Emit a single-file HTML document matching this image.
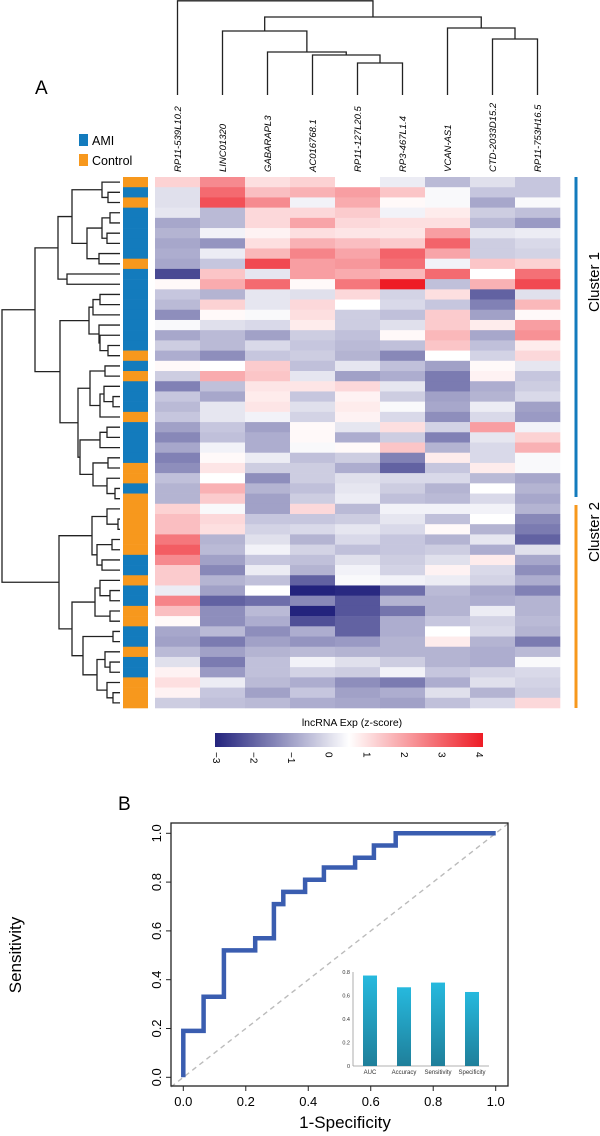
<!DOCTYPE html>
<html><head><meta charset="utf-8"><style>
html,body{margin:0;padding:0;background:#fff;}
svg{display:block;font-family:"Liberation Sans",sans-serif;}
</style></head><body>
<svg id="fig" width="600" height="1136" viewBox="0 0 600 1136" xmlns="http://www.w3.org/2000/svg">
<defs>
<linearGradient id="cbar" x1="0" x2="1" y1="0" y2="0"></linearGradient>
<linearGradient id="barg" x1="0" x2="0" y1="0" y2="1"><stop offset="0" stop-color="#26b9de"/><stop offset="1" stop-color="#1f7f9a"/></linearGradient>
</defs>
<text x="35" y="94" font-size="19">A</text>
<text x="118" y="810" font-size="19">B</text>
<g>
<rect x="79" y="134" width="9" height="12" fill="#137bbd"/>
<text x="92" y="145" font-size="12.5">AMI</text>
<rect x="79" y="154" width="9" height="12" fill="#f7981d"/>
<text x="92" y="165" font-size="12.5">Control</text>
</g>
<g id="heat"></g>
<g id="side"></g>
<g id="rowdend" stroke="#222" stroke-width="1.3" fill="none"></g>
<g id="coldend" stroke="#222" stroke-width="1.3" fill="none"></g>
<g id="collabels"></g>
<g>
<line x1="576" y1="177" x2="576" y2="497" stroke="#137bbd" stroke-width="3"/>
<line x1="576" y1="505" x2="576" y2="708" stroke="#f7981d" stroke-width="3"/>
<text transform="translate(599,282) rotate(-90)" text-anchor="middle" font-size="15">Cluster 1</text>
<text transform="translate(599,532) rotate(-90)" text-anchor="middle" font-size="15">Cluster 2</text>
</g>
<g id="colorbar">
<text x="352" y="726" text-anchor="middle" font-size="10.5">lncRNA Exp (z-score)</text>
<rect x="215" y="733" width="268" height="14" fill="url(#cbar)"/>
</g>
<g id="roc"></g>
</svg>
<script>
const NS="http://www.w3.org/2000/svg";
const genes=["RP11-539L10.2","LINC01320","GABARAPL3","AC016768.1","RP11-127L20.5","RP3-467L1.4","VCAN-AS1","CTD-2033D15.2","RP11-753H16.5"];
const col0=[1.2,0,0,0.1,-0.9,-0.7,-0.9,-0.8,-0.9,-2.4,0.6,-0.4,-0.6,-1.3,0.4,-0.9,-0.3,-0.8,0.6,-0.3,-1.5,-0.4,-0.6,-0.4,-1.0,-1.4,-0.9,-1.5,-1.3,-0.5,-0.7,-0.7,1.2,1.5,1.5,2.6,3.0,2.3,1.3,1.3,0.2,2.4,1.5,0.6,-0.9,-1.0,-0.6,0.0,0.7,1.0,0.7,-0.3];
const col1=[2.3,2.8,3.2,-0.6,-0.6,0.3,-1.2,0.2,-0.4,1.4,1.8,-0.7,1.2,0.6,0.0,-0.6,-0.6,-1.3,0.5,1.8,-0.5,-0.9,0.1,0.1,-0.4,-0.5,0.3,0.6,0.9,0.5,1.7,1.3,0.4,1.1,1.0,-0.7,-0.6,-1.0,-1.4,-0.7,-1.0,-2.0,-1.3,-1.3,-0.6,-1.6,-1.0,-1.6,-1.1,0.2,-0.4,-0.5];
const col2=[1.0,1.5,2.3,1.1,1.1,0.7,1.0,1.6,3.3,0.1,2.8,0.1,0.1,0.4,-0.1,-1.0,-0.1,-0.4,1.3,1.4,0.9,0.8,0.9,0.3,-1.0,-0.8,-0.8,0.2,-0.3,-1.3,-0.7,-1.0,-1.0,-0.4,-0.2,0.0,0.3,-0.4,0.2,-0.5,0.5,-1.8,-0.6,-0.8,-1.3,-1.0,-0.7,-0.5,-0.5,-0.6,-1.0,-0.6];
const col3=[1.2,1.7,0.3,1.1,1.9,1.0,1.7,2.4,2.0,2.0,0.6,0,1.1,1.0,0.8,-0.3,-0.4,-0.3,-0.5,0.1,0.9,-0.4,0.0,-0.2,0.6,0.6,0.4,-0.5,-0.3,-0.3,-0.5,-0.3,1.1,-0.4,-0.1,-0.7,-0.2,-0.5,-0.7,-2.0,-3.0,-1.4,-3.0,-2.3,-0.8,-1.2,-0.6,0.3,-0.2,-0.8,-0.4,-0.8];
const col4=[0.5,2.0,1.8,1.3,1.1,0.9,1.5,1.9,2.1,1.8,2.6,1.1,0.5,-0.3,-0.3,-0.5,-0.6,-0.7,0.1,-1.0,1.1,0.7,0.8,0.7,0.1,-0.8,0.6,-0.3,-0.8,0.0,0.1,0.2,-0.6,-0.3,0.1,-0.1,-0.5,0.0,0.3,0.4,-2.9,-2.2,-2.2,-2.0,-2.0,-1.1,-0.7,0.0,-0.3,-1.3,-1.0,-0.9];
const col5=[0.2,1.4,0.6,0.3,1.0,0.9,1.3,2.9,2.7,1.6,4.0,-0.2,-0.1,-0.5,0.0,0.6,-0.5,-1.4,-0.5,-0.8,0.1,-0.3,0.4,-0.1,1.0,-0.3,1.4,-1.5,-2.0,-0.1,-0.3,-0.5,0.3,0.1,-0.1,-0.4,-0.4,-0.3,-0.2,0.3,-1.8,-0.7,-1.7,-0.8,-0.8,-0.7,-0.7,-0.3,0.3,-1.6,-0.8,-1.0];
const col6=[-0.6,0.4,0.4,0.8,1.0,2.0,2.9,1.9,0.3,2.8,-0.5,1.0,-0.4,1.3,1.3,1.6,1.4,0.5,-1.0,-1.6,-1.6,-1.0,-0.9,-1.3,-0.2,-1.5,-0.7,0.8,-0.4,-0.1,-0.7,-0.6,0.3,-0.5,0.6,-0.7,-0.3,0.0,0.7,0.2,-0.6,-0.7,-0.7,-0.4,0.5,0.8,-0.7,-0.7,-0.4,-0.8,0.0,-0.5];
const col7=[0,-0.4,-0.9,-0.3,-0.6,0.1,-0.3,-0.3,1.4,0.5,1.7,-2.0,-1.5,-1.0,0.8,-0.9,-0.5,-0.2,0.6,0.7,-0.8,-0.7,0.2,-0.1,2.0,0.1,-0.1,-0.1,0.8,-0.6,0.5,-0.1,0.3,0.5,-0.7,0.1,-0.8,0.8,-0.1,-0.2,-0.9,-0.8,0.2,-0.2,-0.1,-0.7,-0.8,-0.8,-0.2,0.0,-0.7,-0.1];
const col8=[-0.4,-0.4,0.4,-0.5,-1.1,0.2,-0.1,-0.2,1.2,2.7,3.3,0,1.6,0.6,2.0,2.2,0.8,1.1,0.1,-0.4,-0.3,-0.1,-1.0,-1.1,0.3,1.2,1.7,0.4,0.4,-0.9,-0.7,-0.9,-0.7,-1.4,-1.6,-2.0,0.0,-0.9,-1.3,-0.8,-1.5,-0.7,-0.7,-0.6,-0.7,-1.6,-0.6,0.4,-0.1,-0.2,-0.3,1.1];
const groups="OBOBBBBBOBBBBBBBBOBOBBBOBBBBOOBOOOOOOBBOBBOOBBOBBOOO";
const cbTicks=[-3,-2,-1,0,1,2,3,4];
const rocFpr=[0,0,0.065,0.065,0.13,0.13,0.23,0.23,0.29,0.29,0.32,0.32,0.39,0.39,0.45,0.45,0.55,0.55,0.61,0.61,0.68,0.68,1];
const rocTpr=[0,0.19,0.19,0.33,0.33,0.52,0.52,0.57,0.57,0.71,0.71,0.76,0.76,0.81,0.81,0.86,0.86,0.90,0.90,0.95,0.95,1,1];
const rocTicks=[0,0.2,0.4,0.6,0.8,1.0];
const insetCats=["AUC","Accuracy","Sensitivity","Specificity"];
const insetVals=[0.77,0.67,0.71,0.63];
const insetTicks=[0,0.2,0.4,0.6,0.8];

function mk(tag,attrs,parent){const e=document.createElementNS(NS,tag);for(const k in attrs)e.setAttribute(k,attrs[k]);if(parent)parent.appendChild(e);return e;}
const NAVY=[35,35,125],WHITE=[255,255,255],RED=[238,28,37];
function color(v){let a,b,t;if(v<=0.5){t=Math.max(0,(v+3)/3.5);a=NAVY;b=WHITE;}else{t=Math.min(1,(v-0.5)/3.5);a=WHITE;b=RED;}
return "rgb("+a.map((c,i)=>Math.round(c+(b[i]-c)*t)).join(",")+")";}

// heatmap
const cols=[col0,col1,col2,col3,col4,col5,col6,col7,col8];
const HX=155,HY=177,CW=45,RH=(708-177)/52;
const heat=document.getElementById('heat');
cols.forEach((arr,c)=>{arr.forEach((v,r)=>{
 const el=mk('rect',{x:HX+c*CW,y:(HY+r*RH).toFixed(2),width:CW+0.3,height:(RH+0.3).toFixed(2),fill:color(v)},heat);
 
 
});});
const side=document.getElementById('side');
for(let r=0;r<groups.length;r++){
 const el=mk('rect',{x:123,y:(HY+r*RH).toFixed(2),width:25,height:(RH+0.3).toFixed(2),fill:groups[r]==='O'?'#f7981d':'#137bbd'},side);
 
 
}
// row dendrogram
function N(h,a,b){return {h:h,a:a,b:b};}
const b_=N(102,0,N(108,1,2));
const f_=N(87,N(102,N(110,3,4),N(107,5,6)),N(99,7,8));
const j_=N(58,N(72,b_,f_),N(67,9,10));
const n5=N(89,N(93,N(100,11,12),13),N(99,14,N(100,15,N(108,16,17))));
const q_=N(90,N(105,18,19),N(100,N(104,20,N(113,21,22)),23));
const s_=N(80,N(100,N(107,24,25),26),N(93,N(108,27,28),N(107,29,N(115,30,31))));
const TOP=N(35,j_,N(60,n5,N(78,q_,s_)));
const u_=N(92,N(107,32,N(118,33,34)),N(97,N(112,35,36),N(102,37,38)));
const v_=N(72,N(95,N(100,39,N(110,40,41)),N(110,42,43)),N(83,N(113,44,45),N(97,N(105,46,N(110,47,48)),N(107,49,N(113,50,51)))));
const ROOT=N(2,TOP,N(59,u_,v_));
const rd=document.getElementById('rowdend');
function drawRow(n){
 if(typeof n==='number')return {x:120,y:HY+(n+0.5)*RH};
 const A=drawRow(n.a),B=drawRow(n.b);
 const p=mk('path',{d:`M${A.x},${A.y}H${n.h}V${B.y}H${B.x}`},rd);
 
 
 return {x:n.h,y:(A.y+B.y)/2};
}
drawRow(ROOT);
// column dendrogram (y is height)
const G=i=>i;
const colTree=N(0.8,0,N(17,N(31,1,N(52,2,N(55,3,N(63,4,5)))),N(28,6,N(39,7,8))));
const cd=document.getElementById('coldend');
function drawCol(n){
 if(typeof n==='number')return {x:HX+(n+0.5)*CW,y:95};
 const A=drawCol(n.a),B=drawCol(n.b);
 const p=mk('path',{d:`M${A.x},${A.y}V${n.h}H${B.x}V${B.y}`},cd);
 
 
 return {x:(A.x+B.x)/2,y:n.h};
}
drawCol(colTree);
const cl=document.getElementById('collabels');
genes.forEach((g,i)=>{
 const x=HX+(i+0.5)*CW+3.5;
 const t=mk('text',{transform:`translate(${x},172) rotate(-90)`,'font-size':'9.5','font-style':'italic'},cl);
 t.textContent=g;
 
 
});
// colorbar
const grad=document.getElementById('cbar');
for(let k=0;k<=28;k++){const v=-3+7*k/28;mk('stop',{offset:k/28,'stop-color':color(v)},grad);}
const cb=document.getElementById('colorbar');
const cbx=v=>217+(v+3)/7*(480-217);
cbTicks.forEach(v=>{
 const t=mk('text',{transform:`translate(${cbx(v)-4},752) rotate(90)`,'font-size':'10'},cb);
 t.textContent=v<0?'\u2212'+(-v):String(v);
 
 
});
// ROC
const roc=document.getElementById('roc');
const X0=183.3,X1=495.7,Y0=1077.3,Y1=833.3;
const sx=v=>X0+v*(X1-X0), sy=v=>Y0-v*(Y0-Y1);
let el=mk('line',{x1:171,y1:sy((171-X0)/(X1-X0)),x2:508,y2:sy((508-X0)/(X1-X0)),stroke:'#bbb','stroke-width':1.4,'stroke-dasharray':'5,4'},roc);


el=mk('polyline',{points:rocFpr.map((f,i)=>sx(f).toFixed(1)+','+sy(rocTpr[i]).toFixed(1)).join(' '),fill:'none',stroke:'#3a5db0','stroke-width':4.5,'stroke-linejoin':'miter'},roc);


el=mk('rect',{x:171,y:823,width:337,height:263,fill:'none',stroke:'#222','stroke-width':1.3},roc);


rocTicks.forEach(v=>{
 let t=mk('line',{x1:sx(v),y1:1086,x2:sx(v),y2:1091,stroke:'#222','stroke-width':1},roc);
 
 
 t=mk('text',{x:sx(v),y:1106,'text-anchor':'middle','font-size':'13'},roc);
 t.textContent=v.toFixed(1);
 
 
 t=mk('line',{x1:166,y1:sy(v),x2:171,y2:sy(v),stroke:'#222','stroke-width':1},roc);
 
 
 t=mk('text',{transform:`translate(161,${sy(v)}) rotate(-90)`,'text-anchor':'middle','font-size':'13'},roc);
 t.textContent=v.toFixed(1);
 
 
});
el=mk('text',{x:345,y:1128,'text-anchor':'middle','font-size':'17'},roc);
el.textContent='1-Specificity';


el=mk('text',{transform:'translate(21,955) rotate(-90)','text-anchor':'middle','font-size':'17'},roc);
el.textContent='Sensitivity';


// inset bar chart
const IB=1066,IT=972,IL=353,IR=489;
const iy=v=>IB-v/0.8*(IB-IT);
el=mk('line',{x1:IL,y1:IT,x2:IL,y2:IB,stroke:'#999','stroke-width':0.8},roc);


el=mk('line',{x1:IL,y1:IB,x2:IR,y2:IB,stroke:'#999','stroke-width':0.8},roc);


insetTicks.forEach(v=>{
 const t=mk('text',{x:IL-3,y:iy(v)+2,'text-anchor':'end','font-size':'5.5',fill:'#333'},roc);
 t.textContent=v===0?'0':v.toFixed(1);
 
 
});
insetCats.forEach((c,i)=>{
 const cx=370+i*34;
 let r=mk('rect',{x:cx-7,y:iy(insetVals[i]),width:14,height:IB-iy(insetVals[i]),fill:'url(#barg)'},roc);
 
 
 const t=mk('text',{x:cx,y:1074,'text-anchor':'middle','font-size':'6',fill:'#333'},roc);
 t.textContent=c;
 
 
});
</script>
</body></html>
